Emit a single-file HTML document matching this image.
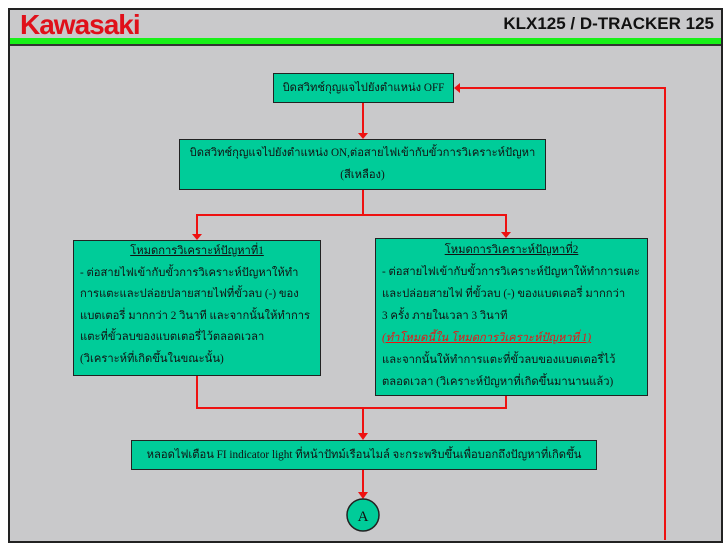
<!DOCTYPE html>
<html><head><meta charset="utf-8"><style>
html,body{margin:0;padding:0;background:#fff;}
body{width:728px;height:551px;position:relative;overflow:hidden;font-family:"Liberation Serif","DejaVu Serif",serif;}
.frame{position:absolute;left:8px;top:8px;width:711px;height:531px;border:2px solid #222;background:#c9c9cb;}
.hdr{position:absolute;left:0;top:0;width:711px;height:28px;background:#c9c9cb;}
.green{position:absolute;left:0;top:28px;width:711px;height:6px;background:#18f018;border-bottom:2px solid #333;}
.logo{position:absolute;left:10px;top:-1px;font-family:"Liberation Sans",sans-serif;font-weight:bold;font-size:28px;color:#e0101a;letter-spacing:-1px;}
.model{position:absolute;right:7px;top:4px;font-family:"Liberation Sans",sans-serif;font-weight:bold;font-size:17px;color:#111;}
.box{position:absolute;background:#00cc99;border:1.5px solid #222;color:#111;font-size:11.2px;line-height:22px;box-sizing:border-box;white-space:nowrap;overflow:hidden;}
.c{text-align:center;}
u{text-decoration:underline;}
</style></head><body>
<div class="frame">
<div class="hdr"><div class="logo">Kawasaki</div><div class="model">KLX125 / D-TRACKER 125</div></div>
<div class="green"></div>
</div>
<svg style="position:absolute;left:0;top:0" width="728" height="551">
<g stroke="#ee1111" stroke-width="2" fill="none">
<line x1="363" y1="103" x2="363" y2="134"/>
<polyline points="363,190 363,215 197,215 197,235"/>
<polyline points="363,215 506,215 506,233"/>
<polyline points="197,376 197,408 506,408 506,396"/>
<line x1="363" y1="408" x2="363" y2="434"/>
<line x1="363" y1="470" x2="363" y2="493"/>
<polyline points="665,540 665,88 458,88"/>
</g>
<g fill="#ee1111">
<polygon points="358,133 368,133 363,139"/>
<polygon points="192,234 202,234 197,240"/>
<polygon points="501,232 511,232 506,238"/>
<polygon points="358,433 368,433 363,440"/>
<polygon points="358,492 368,492 363,499"/>
<polygon points="460,83 460,93 454,88"/>
</g>
<circle cx="363" cy="515" r="16" fill="#00cc99" stroke="#222" stroke-width="1.5"/>
<text x="363" y="521" text-anchor="middle" font-family="Liberation Serif,serif" font-size="15" fill="#111">A</text>
</svg>
<div class="box c" style="left:273px;top:73px;width:181px;height:30px;line-height:28px;">บิดสวิทช์กุญแจไปยังตำแหน่ง OFF</div>
<div class="box c" style="left:179px;top:139px;width:367px;height:51px;padding-top:2px;">บิดสวิทช์กุญแจไปยังตำแหน่ง ON,ต่อสายไฟเข้ากับขั้วการวิเคราะห์ปัญหา<br>(สีเหลือง)</div>
<div class="box" style="left:73px;top:240px;width:248px;height:136px;padding:0 6px;line-height:21.5px;"><div class="c"><u>โหมดการวิเคราะห์ปัญหาที่1</u></div>- ต่อสายไฟเข้ากับขั้วการวิเคราะห์ปัญหาให้ทำ<br>การแตะและปล่อยปลายสายไฟที่ขั้วลบ (-) ของ<br>แบตเตอรี่ มากกว่า 2 วินาที และจากนั้นให้ทำการ<br>แตะที่ขั้วลบของแบตเตอรี่ไว้ตลอดเวลา<br>(วิเคราะห์ที่เกิดขึ้นในขณะนั้น)</div>
<div class="box" style="left:375px;top:238px;width:273px;height:158px;padding:0 6px;"><div class="c"><u>โหมดการวิเคราะห์ปัญหาที่2</u></div>- ต่อสายไฟเข้ากับขั้วการวิเคราะห์ปัญหาให้ทำการแตะ<br>และปล่อยสายไฟ ที่ขั้วลบ (-) ของแบตเตอรี่ มากกว่า<br>3 ครั้ง ภายในเวลา 3 วินาที<br><i><u style="color:#ee1111">(ทำโหมดนี้ใน โหมดการวิเคราะห์ปัญหาที่ 1)</u></i><br>และจากนั้นให้ทำการแตะที่ขั้วลบของแบตเตอรี่ไว้<br>ตลอดเวลา (วิเคราะห์ปัญหาที่เกิดขึ้นมานานแล้ว)</div>
<div class="box c" style="left:131px;top:440px;width:466px;height:30px;line-height:28px;">หลอดไฟเตือน FI indicator light ที่หน้าปัทม์เรือนไมล์ จะกระพริบขึ้นเพื่อบอกถึงปัญหาที่เกิดขึ้น</div>
</body></html>
